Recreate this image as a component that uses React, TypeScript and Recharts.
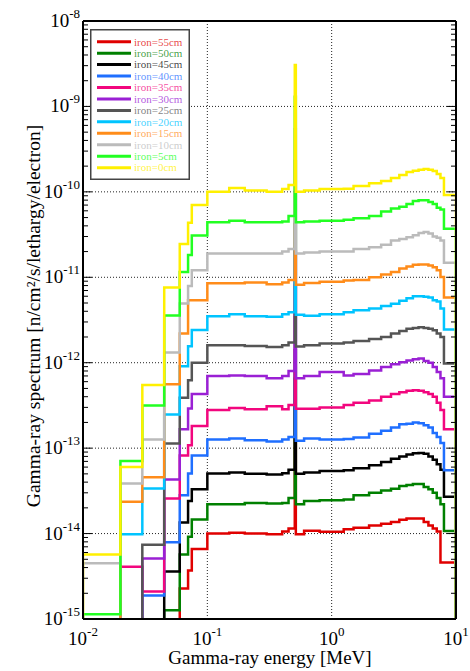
import React from "react";
import {
  LineChart,
  Line,
  XAxis,
  YAxis,
  CartesianGrid,
  Legend,
} from "recharts";

// bin edges [MeV]; the narrow 0.505-0.515 bin holds the annihilation line
const edges = [
  0.01, 0.02, 0.03, 0.045, 0.06, 0.07, 0.075, 0.1, 0.15, 0.2, 0.3, 0.4, 0.45,
  0.505, 0.515, 0.6, 0.8, 1.25, 1.5, 2, 2.5, 3, 3.5, 4, 4.5, 5, 5.5, 6, 6.5, 7,
  7.5, 8, 10,
];

// values per bin (1e-16 = below the plotted range)
const iron55 = [
  1e-16, 1e-16, 1e-16, 1e-16, 2.28e-15, 3.7e-15, 6.6e-15, 1.0e-14, 1.02e-14,
  1.0e-14, 9.8e-15, 1.06e-14, 1.15e-14, 2.9e-13, 9.8e-15, 1.08e-14, 1.05e-14,
  1.12e-14, 1.17e-14, 1.24e-14, 1.3e-14, 1.37e-14, 1.45e-14, 1.5e-14, 1.5e-14,
  1.5e-14, 1.37e-14, 1.24e-14, 1.15e-14, 1.06e-14, 4.6e-15, 4.6e-15,
];
const iron50 = [
  1e-16, 1e-16, 1e-16, 1.27e-15, 5.7e-15, 9.2e-15, 1.46e-14, 2.2e-14, 2.2e-14,
  2.28e-14, 2.25e-14, 2.28e-14, 2.6e-14, 6.5e-13, 2.2e-14, 2.4e-14, 2.45e-14,
  2.5e-14, 2.8e-14, 3.0e-14, 3.2e-14, 3.35e-14, 3.6e-14, 3.7e-14, 3.8e-14,
  3.8e-14, 3.5e-14, 3.3e-14, 3.0e-14, 2.6e-14, 2.2e-14, 1.07e-14,
];
const iron45 = [
  1e-16, 1e-16, 1e-16, 3.6e-15, 1.35e-14, 2.4e-14, 3.3e-14, 5.05e-14, 5.2e-14,
  5.0e-14, 4.9e-14, 5.1e-14, 5.6e-14, 1.4e-12, 5.0e-14, 5.2e-14, 5.4e-14,
  5.5e-14, 5.8e-14, 6.3e-14, 6.9e-14, 7.5e-14, 8.0e-14, 8.4e-14, 8.7e-14,
  8.8e-14, 8.6e-14, 8.0e-14, 7.3e-14, 6.5e-14, 5.6e-14, 2.7e-14,
];
const iron40 = [
  1e-16, 1e-16, 1.88e-15, 7.9e-15, 2.8e-14, 5.05e-14, 8.2e-14, 1.26e-13, 1.3e-13,
  1.24e-13, 1.2e-13, 1.26e-13, 1.35e-13, 3.4e-12, 1.22e-13, 1.3e-13, 1.26e-13,
  1.28e-13, 1.33e-13, 1.47e-13, 1.6e-13, 1.75e-13, 1.9e-13, 1.93e-13, 2.0e-13,
  1.95e-13, 1.85e-13, 1.75e-13, 1.5e-13, 1.35e-13, 1.15e-13, 5.5e-14,
];
const iron35 = [
  1e-16, 4.1e-15, 2.1e-15, 2.58e-14, 8.2e-14, 1.08e-13, 1.82e-13, 2.8e-13,
  2.95e-13, 2.85e-13, 3.1e-13, 2.85e-13, 3.2e-13, 8.0e-12, 2.9e-13, 2.9e-13,
  3.0e-13, 3.2e-13, 3.4e-13, 3.6e-13, 4.0e-13, 4.3e-13, 4.5e-13, 4.7e-13,
  4.75e-13, 4.7e-13, 4.5e-13, 4.3e-13, 4.0e-13, 3.4e-13, 2.8e-13, 1.66e-13,
];
const iron30 = [
  1e-16, 1e-16, 5.1e-15, 4.3e-14, 1.66e-13, 2.92e-13, 4.3e-13, 7.0e-13, 7.1e-13,
  7.0e-13, 6.6e-13, 7.0e-13, 8.0e-13, 2.0e-11, 6.6e-13, 7.0e-13, 7.8e-13,
  7.1e-13, 7.4e-13, 8.1e-13, 8.9e-13, 9.6e-13, 1.01e-12, 1.06e-12, 1.1e-12,
  1.12e-12, 1.05e-12, 1.0e-12, 8.9e-13, 7.8e-13, 6.6e-13, 4.0e-13,
];
const iron25 = [
  1e-16, 1e-16, 7.4e-15, 1.13e-13, 3.9e-13, 6.25e-13, 1.0e-12, 1.6e-12, 1.6e-12,
  1.57e-12, 1.53e-12, 1.6e-12, 1.72e-12, 4.2e-11, 1.55e-12, 1.6e-12, 1.68e-12,
  1.72e-12, 1.8e-12, 1.9e-12, 2.0e-12, 2.2e-12, 2.35e-12, 2.5e-12, 2.55e-12,
  2.6e-12, 2.55e-12, 2.5e-12, 2.4e-12, 2.2e-12, 2.0e-12, 9.8e-13,
];
const iron20 = [
  1e-16, 9.8e-15, 3.37e-14, 2.48e-13, 9.1e-13, 1.56e-12, 2.41e-12, 3.5e-12,
  3.7e-12, 3.5e-12, 3.45e-12, 3.7e-12, 3.9e-12, 9.5e-11, 3.65e-12, 3.55e-12,
  3.7e-12, 3.9e-12, 4.1e-12, 4.3e-12, 4.6e-12, 4.9e-12, 5.3e-12, 5.7e-12,
  6.0e-12, 6.0e-12, 5.9e-12, 5.8e-12, 5.4e-12, 5.2e-12, 4.3e-12, 2.45e-12,
];
const iron15 = [
  1e-16, 2.35e-14, 4.57e-14, 5.6e-13, 2.2e-12, 5.4e-12, 5.4e-12, 8.5e-12,
  8.5e-12, 8.7e-12, 8.3e-12, 8.7e-12, 9.3e-12, 2.3e-10, 8.2e-12, 8.55e-12,
  8.85e-12, 9.2e-12, 9.3e-12, 1.0e-11, 1.08e-11, 1.15e-11, 1.27e-11, 1.34e-11,
  1.4e-11, 1.41e-11, 1.41e-11, 1.37e-11, 1.31e-11, 1.21e-11, 1.01e-11, 5.8e-12,
];
const iron10 = [
  4.5e-15, 3.86e-14, 1.26e-13, 1.32e-12, 4.94e-12, 7.9e-12, 1.21e-11, 1.9e-11,
  1.9e-11, 1.9e-11, 1.9e-11, 2.0e-11, 2.15e-11, 5.4e-10, 1.9e-11, 1.95e-11,
  2.0e-11, 2.0e-11, 2.15e-11, 2.25e-11, 2.4e-11, 2.7e-11, 2.8e-11, 2.95e-11,
  3.1e-11, 3.3e-11, 3.4e-11, 3.25e-11, 3.0e-11, 2.9e-11, 2.7e-11, 1.48e-11,
];
const iron5 = [
  1.14e-15, 7.05e-14, 3.16e-13, 3.58e-12, 1.15e-11, 1.82e-11, 3.09e-11, 4.4e-11,
  4.6e-11, 4.4e-11, 4.4e-11, 4.5e-11, 5.2e-11, 1.3e-9, 4.4e-11, 4.5e-11, 4.6e-11,
  4.7e-11, 4.9e-11, 5.2e-11, 5.9e-11, 6.4e-11, 6.7e-11, 7.2e-11, 7.8e-11,
  8.0e-11, 8.0e-11, 7.6e-11, 7.2e-11, 6.5e-11, 6.2e-11, 3.7e-11,
];
const iron0 = [
  5.7e-15, 6.0e-14, 5.5e-13, 7.6e-12, 2.45e-11, 4.35e-11, 7.0e-11, 1.0e-10,
  1.11e-10, 1.04e-10, 1.0e-10, 1.08e-10, 1.2e-10, 3.05e-9, 1.0e-10, 1.04e-10,
  1.08e-10, 1.09e-10, 1.17e-10, 1.26e-10, 1.34e-10, 1.45e-10, 1.57e-10,
  1.71e-10, 1.77e-10, 1.82e-10, 1.85e-10, 1.82e-10, 1.76e-10, 1.62e-10,
  1.45e-10, 9.2e-11,
];

const series = [
  { key: "s55", name: "iron=55cm", color: "#e00000", values: iron55 },
  { key: "s50", name: "iron=50cm", color: "#008000", values: iron50 },
  { key: "s45", name: "iron=45cm", color: "#000000", values: iron45 },
  { key: "s40", name: "iron=40cm", color: "#1f6fff", values: iron40 },
  { key: "s35", name: "iron=35cm", color: "#f2067e", values: iron35 },
  { key: "s30", name: "iron=30cm", color: "#9a20d4", values: iron30 },
  { key: "s25", name: "iron=25cm", color: "#555555", values: iron25 },
  { key: "s20", name: "iron=20cm", color: "#00c4ff", values: iron20 },
  { key: "s15", name: "iron=15cm", color: "#ff8c1a", values: iron15 },
  { key: "s10", name: "iron=10cm", color: "#bbbbbb", values: iron10 },
  { key: "s5", name: "iron=5cm", color: "#22ff22", values: iron5 },
  { key: "s0", name: "iron=0cm", color: "#fff000", values: iron0 },
];

const xMajor = [0.01, 0.1, 1, 10];
const yMajor = [1e-15, 1e-14, 1e-13, 1e-12, 1e-11, 1e-10, 1e-9, 1e-8];
const mults = [1, 2, 3, 4, 5, 6, 7, 8, 9];
const allTicks = (decades: number[]) =>
  decades.slice(0, -1).flatMap((d) => mults.map((m) => m * d)).concat(decades.slice(-1));
const xTicksAll = allTicks(xMajor);
const yTicksAll = allTicks(yMajor);

const FLOOR = 1e-17; // off-scale value so steps rise from / fall to the frame

// step table: row per left bin edge, plus closing rows at 10 MeV
const data = (() => {
  const rows: any[] = [];
  const first: any = { e: edges[0] };
  series.forEach((s) => (first[s.key] = FLOOR));
  rows.push(first);
  edges.forEach((e, i) => {
    const row: any = { e };
    series.forEach((s) => {
      row[s.key] = s.values[Math.min(i, s.values.length - 1)];
    });
    rows.push(row);
  });
  const last: any = { e: edges[edges.length - 1] };
  series.forEach((s) => (last[s.key] = FLOOR));
  rows.push(last);
  return rows;
})();

const FONT = '"Liberation Serif", "Times New Roman", serif';

const XTick = ({ x, y, payload }: any) => {
  const exp = Math.round(Math.log10(payload.value));
  return (
    <text x={x} y={y + 24} textAnchor="middle" fontFamily={FONT} fontSize={19} fill="#000">
      10
      <tspan dy={-9} fontSize={13}>
        {exp}
      </tspan>
    </text>
  );
};

const YTick = ({ x, y, payload }: any) => {
  const exp = Math.round(Math.log10(payload.value));
  return (
    <text x={x} y={y + 6} textAnchor="end" fontFamily={FONT} fontSize={19} fill="#000">
      10
      <tspan dy={-9} fontSize={13}>
        {exp}
      </tspan>
    </text>
  );
};

// extends the inward tick at each decade (the axis tick line itself is the minor length)
const isDecade = (v: number) => Math.abs(Math.log10(v) - Math.round(Math.log10(v))) < 1e-6;
const EdgeTick = ({ x, y, payload, side }: any) => {
  if (!isDecade(payload.value)) return <g />;
  const d = 4;
  const [dx, dy] =
    side === "bottom" ? [0, -d] : side === "top" ? [0, d] : side === "left" ? [d, 0] : [-d, 0];
  return <line x1={x} y1={y} x2={x + dx} y2={y + dy} stroke="#000" strokeWidth={1} />;
};

// legend drawn in series order, top to bottom
const LegendBox = () => (
  <svg width={100} height={151} style={{ display: "block" }}>
    <rect x={0.75} y={0.75} width={98.5} height={149.5} fill="#fff" stroke="#444" strokeWidth={1.5} />
    {series.map((s, i) => {
      const cy = 12.7 + i * 11.45;
      return (
        <g key={s.key}>
          <line x1={7} x2={41} y1={cy} y2={cy} stroke={s.color} strokeWidth={3} />
          <text x={44} y={cy + 3.8} fontFamily={FONT} fontSize={11} fill={s.color} fillOpacity={0.75}>
            {s.name}
          </text>
        </g>
      );
    })}
  </svg>
);

const edgeAxis = {
  type: "number" as const,
  scale: "log" as const,
  allowDataOverflow: true,
  mirror: true,
  tickSize: 5,
  tickMargin: 0,
  interval: 0 as const,
  tickLine: { stroke: "#000", strokeWidth: 1 },
  axisLine: { stroke: "#000", strokeWidth: 2 },
};

export default function App() {
  return (
    <div style={{ position: "absolute", left: 0, top: 0, background: "#fff" }}>
      <LineChart width={470} height={671} data={data} margin={{ top: 21, right: 14, bottom: 22, left: 23 }}>
        <CartesianGrid stroke="#222" strokeDasharray="1 2" strokeWidth={1} />
        <XAxis
          dataKey="e"
          type="number"
          scale="log"
          domain={[0.01, 10]}
          allowDataOverflow
          ticks={xMajor}
          interval={0}
          height={30}
          axisLine={false}
          tickLine={false}
          tickSize={0}
          tick={<XTick />}
        />
        <YAxis
          type="number"
          scale="log"
          domain={[1e-15, 1e-8]}
          allowDataOverflow
          ticks={yMajor}
          interval={0}
          width={60}
          axisLine={false}
          tickLine={false}
          tickSize={0}
          tickMargin={3}
          tick={<YTick />}
        />
        {/* frame with inward tick marks on all four sides */}
        <XAxis xAxisId="bEdge" orientation="bottom" {...edgeAxis} domain={[0.01, 10]} ticks={xTicksAll} height={1} tick={<EdgeTick side="bottom" />} />
        <XAxis xAxisId="tEdge" orientation="top" {...edgeAxis} domain={[0.01, 10]} ticks={xTicksAll} height={1} tick={<EdgeTick side="top" />} />
        <YAxis yAxisId="lEdge" orientation="left" {...edgeAxis} domain={[1e-15, 1e-8]} ticks={yTicksAll} width={1} tick={<EdgeTick side="left" />} />
        <YAxis yAxisId="rEdge" orientation="right" {...edgeAxis} domain={[1e-15, 1e-8]} ticks={yTicksAll} width={1} tick={<EdgeTick side="right" />} />
        {series.map((s) => (
          <Line
            key={s.key}
            dataKey={s.key}
            name={s.name}
            type="stepAfter"
            stroke={s.color}
            strokeWidth={2.5}
            dot={false}
            activeDot={false}
            isAnimationActive={false}
          />
        ))}
        <Legend
          layout="vertical"
          align="center"
          verticalAlign="middle"
          content={<LegendBox />}
          wrapperStyle={{ left: 90, top: 29, width: 100, height: 151 }}
        />
        <text x={270} y={664} textAnchor="middle" fontFamily={FONT} fontSize={19} fill="#000">
          Gamma-ray energy [MeV]
        </text>
        <text
          x={40}
          y={316}
          textAnchor="middle"
          fontFamily={FONT}
          fontSize={19.5}
          fill="#000"
          transform="rotate(-90 40 316)"
        >
          Gamma-ray spectrum [n/cm²/s/lethargy/electron]
        </text>
      </LineChart>
    </div>
  );
}
